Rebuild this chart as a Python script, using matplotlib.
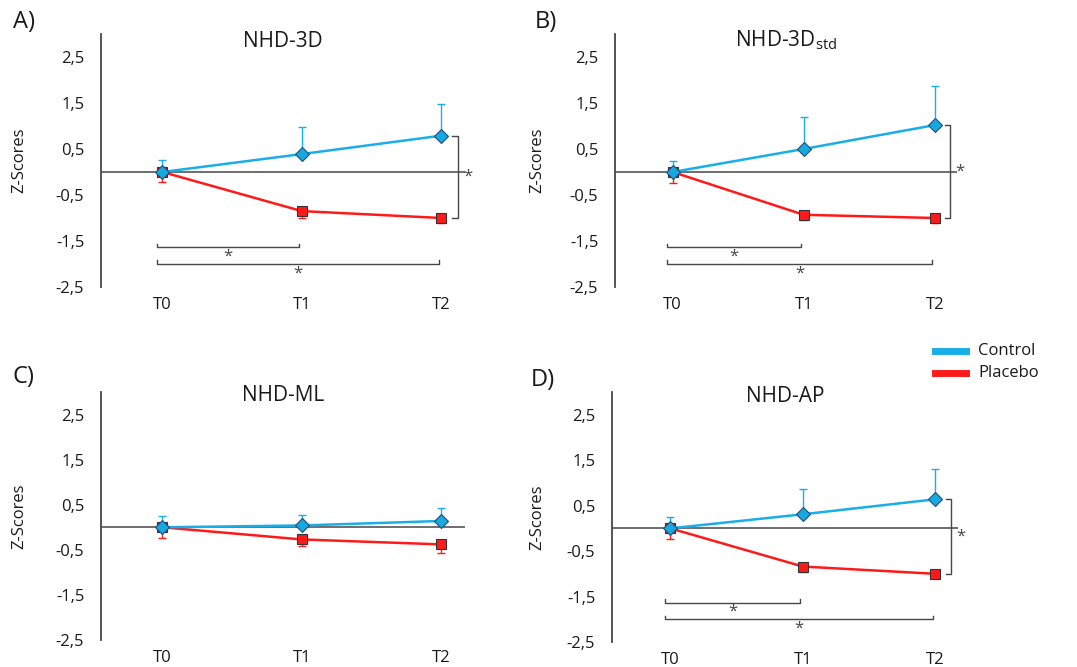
import matplotlib
matplotlib.use('Agg')
import matplotlib.pyplot as plt
from matplotlib.lines import Line2D

plt.rcParams['font.family'] = ['Open Sans', 'DejaVu Sans']

times = ['T0', 'T1', 'T2']
yticks = [2.5, 1.5, 0.5, -0.5, -1.5, -2.5]

titles = ['NHD-3D', 'NHD-3D$_\\mathregular{std}$', 'NHD-ML', 'NHD-AP']
letters = ['A)', 'B)', 'C)', 'D)']

control_3d = [0.0, 0.39, 0.79]
control_3d_err = [0.26, 0.59, 0.69]
placebo_3d = [0.0, -0.85, -1.0]
placebo_3d_err = [0.22, 0.15, 0.10]

control_3dstd = [0.0, 0.50, 1.02]
control_3dstd_err = [0.24, 0.70, 0.86]
placebo_3dstd = [0.0, -0.93, -1.0]
placebo_3dstd_err = [0.24, 0.12, 0.10]

control_ml = [0.0, 0.04, 0.14]
control_ml_err = [0.24, 0.24, 0.28]
placebo_ml = [0.0, -0.27, -0.38]
placebo_ml_err = [0.24, 0.14, 0.20]

control_ap = [0.0, 0.31, 0.64]
control_ap_err = [0.26, 0.55, 0.66]
placebo_ap = [0.0, -0.84, -1.0]
placebo_ap_err = [0.24, 0.13, 0.10]

# which panels show significance brackets
signif = [True, True, False, True]

blue = '#1AAEE8'
red = '#FF1A1A'
grey = '#474747'
txt = '#1a1a1a'

W, H = 1077, 667
fig = plt.figure(figsize=(W / 100, H / 100), dpi=100)


def px_axes(left, top, width, height):
    return fig.add_axes([left / W, 1 - (top + height) / H, width / W, height / H])


axes = [px_axes(101, 34, 364, 253), px_axes(615, 34, 342, 253),
        px_axes(101, 392, 364, 248), px_axes(612, 392, 346, 250)]
letter_pos = [(13, 22), (535, 22), (13, 377), (531, 380)]
title_y = [0.972, 0.976, 0.985, 0.982]
ylabel_x = [27, 545, 27, 545]

data = [(control_3d, control_3d_err, placebo_3d, placebo_3d_err),
        (control_3dstd, control_3dstd_err, placebo_3dstd, placebo_3dstd_err),
        (control_ml, control_ml_err, placebo_ml, placebo_ml_err),
        (control_ap, control_ap_err, placebo_ap, placebo_ap_err)]

x = list(range(len(times)))

for i, ax in enumerate(axes):
    ctrl, ctrl_err, plac, plac_err = data[i]

    ax.set_xlim(-0.44, 2.17)
    ax.set_ylim(-2.5, 3.0)
    for s in ['top', 'right', 'bottom']:
        ax.spines[s].set_visible(False)
    ax.spines['left'].set_color(grey)
    ax.spines['left'].set_linewidth(1.3)
    ax.axhline(0, color=grey, lw=1.1, zorder=1)

    ax.set_yticks(yticks)
    ax.set_yticklabels([str(v).replace('.', ',') for v in yticks])
    ax.set_xticks(x)
    ax.set_xticklabels(times)
    ax.tick_params(axis='y', length=0, pad=12, labelsize=12, colors=txt)
    ax.tick_params(axis='x', length=0, pad=7, labelsize=12, colors=txt)

    ax.errorbar(x, plac, yerr=[plac_err, [0, 0, 0]], color=red, lw=0, elinewidth=1,
                capsize=3, capthick=1, zorder=2)
    ax.plot(x, plac, color=red, lw=1.8, marker='s', ms=7, mfc=red, mec='#333333',
            mew=0.8, zorder=3)
    ax.errorbar(x, ctrl, yerr=[[0, 0, 0], ctrl_err], color=blue, lw=0, elinewidth=1,
                capsize=3, capthick=1, zorder=4)
    ax.plot(x, ctrl, color=blue, lw=1.8, marker='D', ms=7, mfc='#18A8E0', mec='#1F4E79',
            mew=0.8, zorder=5)

    ax.text(0.5, title_y[i], titles[i], transform=ax.transAxes, fontsize=15,
            ha='center', va='center', color=txt)
    lx, ly = letter_pos[i]
    fig.text(lx / W, 1 - ly / H, letters[i], fontsize=17, va='center', ha='left', color=txt)
    pos = ax.get_position()
    ax.yaxis.set_label_coords((ylabel_x[i] - pos.x0 * W) / (pos.width * W), 0.56)
    ax.set_ylabel('Z-Scores', fontsize=12, color=txt)

    if signif[i]:
        # group difference at T2
        bx = x[2] + 0.12
        ax.plot([bx - 0.04, bx, bx, bx - 0.04], [ctrl[2], ctrl[2], plac[2], plac[2]],
                color=grey, lw=1)
        ax.text(bx + 0.07, (ctrl[2] + plac[2]) / 2, '*', color=grey, fontsize=12,
                ha='center', va='center')
        # time differences in placebo
        for j, yb in [(1, -1.64), (2, -2.0)]:
            ax.plot([x[0] - 0.04, x[0] - 0.04, x[j] - 0.02, x[j] - 0.02],
                    [yb + 0.08, yb, yb, yb + 0.08], color=grey, lw=1)
            ax.text((x[0] + x[j]) / 2 - 0.03, yb - 0.2, '*', color=grey, fontsize=12,
                    ha='center', va='center')

# legend
fig.add_artist(Line2D([935 / W, 966 / W], [1 - 351 / H, 1 - 351 / H], color=blue, lw=5))
fig.add_artist(Line2D([935 / W, 966 / W], [1 - 373 / H, 1 - 373 / H], color=red, lw=5))
fig.text(978 / W, 1 - 351 / H, 'Control', fontsize=12, va='center', color=txt)
fig.text(978 / W, 1 - 373 / H, 'Placebo', fontsize=12, va='center', color=txt)

fig.savefig('out.png', dpi=100)
